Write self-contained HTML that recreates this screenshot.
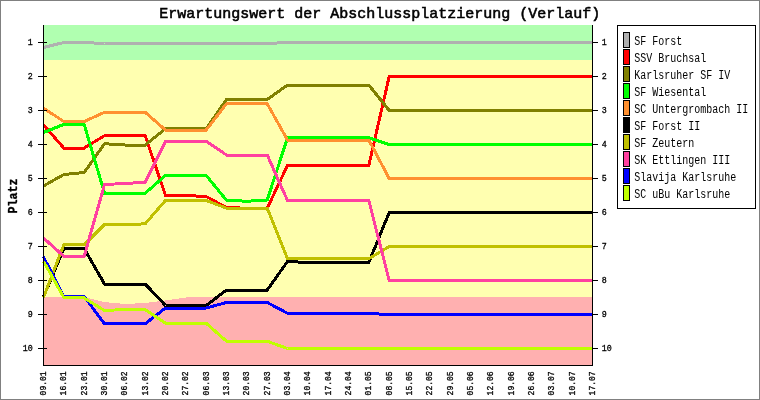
<!DOCTYPE html>
<html><head><meta charset="utf-8"><title>Erwartungswert der Abschlussplatzierung (Verlauf)</title>
<style>html,body{margin:0;padding:0;background:#fff;}svg{display:block;will-change:transform;}text{font-family:"Liberation Mono",monospace;fill:#000;}</style></head><body>
<svg width="760" height="400" viewBox="0 0 760 400">
<rect x="0" y="0" width="760" height="400" fill="#fff"/>
<rect x="0.5" y="0.5" width="759" height="399" fill="none" stroke="#808080" stroke-width="1" shape-rendering="crispEdges"/>
<g shape-rendering="crispEdges">
<rect x="43" y="25" width="550" height="341" fill="#ffffb0"/>
<rect x="43" y="25" width="550" height="35" fill="#b0ffb0"/>
<polygon fill="#ffb0b0" points="43,297 84,297 104,302 125,304 145,303 165,300.5 190,297 593,297 593,366 43,366"/>
</g>
<g fill="none" stroke-width="3" stroke-linejoin="miter" stroke-linecap="butt" shape-rendering="crispEdges">
<polyline stroke="#b0b0b0" points="43.5,47.50 63.8,42.50 84.2,42.50 104.5,43.50 124.8,43.50 145.2,43.50 165.5,43.50 185.8,43.50 206.2,43.50 226.5,43.50 246.8,43.50 267.2,43.50 287.5,42.50 307.8,42.50 328.2,42.50 348.5,42.50 368.8,42.50 389.2,42.50 409.5,42.50 429.8,42.50 450.2,42.50 470.5,42.50 490.8,42.50 511.2,42.50 531.5,42.50 551.8,42.50 572.2,42.50 592.5,42.50"/>
<polyline stroke="#ff0000" points="43.5,125.00 63.8,148.00 84.2,148.00 104.5,135.70 124.8,135.70 145.2,135.70 165.5,195.50 185.8,195.50 206.2,196.50 226.5,207.60 246.8,208.20 267.2,208.20 287.5,165.50 307.8,165.50 328.2,165.50 348.5,165.50 368.8,165.50 389.2,76.50 409.5,76.50 429.8,76.50 450.2,76.50 470.5,76.50 490.8,76.50 511.2,76.50 531.5,76.50 551.8,76.50 572.2,76.50 592.5,76.50"/>
<polyline stroke="#808000" points="43.5,186.00 63.8,174.50 84.2,172.50 104.5,143.75 124.8,145.00 145.2,145.00 165.5,128.75 185.8,128.75 206.2,128.75 226.5,99.50 246.8,99.50 267.2,99.50 287.5,85.00 307.8,85.00 328.2,85.00 348.5,85.00 368.8,85.00 389.2,110.50 409.5,110.50 429.8,110.50 450.2,110.50 470.5,110.50 490.8,110.50 511.2,110.50 531.5,110.50 551.8,110.50 572.2,110.50 592.5,110.50"/>
<polyline stroke="#00ff00" points="43.5,132.50 63.8,124.40 84.2,124.40 104.5,193.25 124.8,193.25 145.2,193.25 165.5,175.50 185.8,175.50 206.2,175.50 226.5,200.25 246.8,201.25 267.2,200.00 287.5,137.75 307.8,137.75 328.2,137.75 348.5,137.75 368.8,137.75 389.2,144.50 409.5,144.50 429.8,144.50 450.2,144.50 470.5,144.50 490.8,144.50 511.2,144.50 531.5,144.50 551.8,144.50 572.2,144.50 592.5,144.50"/>
<polyline stroke="#ff9030" points="43.5,108.10 63.8,121.50 84.2,121.50 104.5,112.25 124.8,112.25 145.2,112.25 165.5,130.00 185.8,130.00 206.2,130.00 226.5,103.75 246.8,103.75 267.2,103.75 287.5,140.00 307.8,140.00 328.2,140.00 348.5,140.00 368.8,140.00 389.2,178.50 409.5,178.50 429.8,178.50 450.2,178.50 470.5,178.50 490.8,178.50 511.2,178.50 531.5,178.50 551.8,178.50 572.2,178.50 592.5,178.50"/>
<polyline stroke="#000000" points="43.5,297.00 63.8,248.50 84.2,248.50 104.5,284.00 124.8,284.00 145.2,284.00 165.5,305.50 185.8,305.50 206.2,305.50 226.5,290.00 246.8,290.00 267.2,290.00 287.5,261.50 307.8,262.50 328.2,262.50 348.5,262.50 368.8,262.50 389.2,212.50 409.5,212.50 429.8,212.50 450.2,212.50 470.5,212.50 490.8,212.50 511.2,212.50 531.5,212.50 551.8,212.50 572.2,212.50 592.5,212.50"/>
<polyline stroke="#c0c000" points="43.5,297.50 63.8,244.75 84.2,244.75 104.5,224.50 124.8,225.00 145.2,223.75 165.5,200.40 185.8,200.40 206.2,200.40 226.5,208.20 246.8,208.20 267.2,208.20 287.5,258.75 307.8,258.75 328.2,258.75 348.5,258.75 368.8,258.75 389.2,246.50 409.5,246.50 429.8,246.50 450.2,246.50 470.5,246.50 490.8,246.50 511.2,246.50 531.5,246.50 551.8,246.50 572.2,246.50 592.5,246.50"/>
<polyline stroke="#ff40a0" points="43.5,238.00 63.8,256.25 84.2,256.25 104.5,184.50 124.8,183.50 145.2,182.25 165.5,141.25 185.8,141.25 206.2,141.25 226.5,155.00 246.8,155.00 267.2,155.00 287.5,200.50 307.8,200.50 328.2,200.50 348.5,200.50 368.8,200.50 389.2,280.50 409.5,280.50 429.8,280.50 450.2,280.50 470.5,280.50 490.8,280.50 511.2,280.50 531.5,280.50 551.8,280.50 572.2,280.50 592.5,280.50"/>
<polyline stroke="#0000ff" points="43.5,257.00 63.8,296.50 84.2,296.50 104.5,323.75 124.8,323.75 145.2,323.75 165.5,308.00 185.8,308.00 206.2,308.00 226.5,302.50 246.8,302.50 267.2,302.50 287.5,313.25 307.8,313.25 328.2,313.25 348.5,313.25 368.8,313.50 389.2,314.50 409.5,314.50 429.8,314.50 450.2,314.50 470.5,314.50 490.8,314.50 511.2,314.50 531.5,314.50 551.8,314.50 572.2,314.50 592.5,314.50"/>
<polyline stroke="#c0ff00" points="43.5,261.25 63.8,297.50 84.2,298.00 104.5,310.50 124.8,309.50 145.2,309.50 165.5,323.25 185.8,323.25 206.2,323.25 226.5,341.25 246.8,341.25 267.2,341.25 287.5,348.50 307.8,348.50 328.2,348.50 348.5,348.50 368.8,348.50 389.2,348.50 409.5,348.50 429.8,348.50 450.2,348.50 470.5,348.50 490.8,348.50 511.2,348.50 531.5,348.50 551.8,348.50 572.2,348.50 592.5,348.50"/>
</g>
<g stroke="#000" stroke-width="1" shape-rendering="crispEdges" fill="none">
<line x1="43.5" y1="25" x2="43.5" y2="366"/>
<line x1="592.5" y1="25" x2="592.5" y2="366"/>
<line x1="43" y1="365.5" x2="593" y2="365.5"/>
<line x1="38" y1="42.5" x2="47" y2="42.5"/>
<line x1="593" y1="42.5" x2="598" y2="42.5"/>
<line x1="38" y1="76.5" x2="47" y2="76.5"/>
<line x1="593" y1="76.5" x2="598" y2="76.5"/>
<line x1="38" y1="110.5" x2="47" y2="110.5"/>
<line x1="593" y1="110.5" x2="598" y2="110.5"/>
<line x1="38" y1="144.5" x2="47" y2="144.5"/>
<line x1="593" y1="144.5" x2="598" y2="144.5"/>
<line x1="38" y1="178.5" x2="47" y2="178.5"/>
<line x1="593" y1="178.5" x2="598" y2="178.5"/>
<line x1="38" y1="212.5" x2="47" y2="212.5"/>
<line x1="593" y1="212.5" x2="598" y2="212.5"/>
<line x1="38" y1="246.5" x2="47" y2="246.5"/>
<line x1="593" y1="246.5" x2="598" y2="246.5"/>
<line x1="38" y1="280.5" x2="47" y2="280.5"/>
<line x1="593" y1="280.5" x2="598" y2="280.5"/>
<line x1="38" y1="314.5" x2="47" y2="314.5"/>
<line x1="593" y1="314.5" x2="598" y2="314.5"/>
<line x1="38" y1="348.5" x2="47" y2="348.5"/>
<line x1="593" y1="348.5" x2="598" y2="348.5"/>
</g>
<g font-size="9" stroke="#000" stroke-width="0.3">
<text x="27.8" y="45" textLength="5" lengthAdjust="spacingAndGlyphs">1</text>
<text x="601.8" y="45" textLength="5" lengthAdjust="spacingAndGlyphs">1</text>
<text x="27.8" y="79" textLength="5" lengthAdjust="spacingAndGlyphs">2</text>
<text x="601.8" y="79" textLength="5" lengthAdjust="spacingAndGlyphs">2</text>
<text x="27.8" y="113" textLength="5" lengthAdjust="spacingAndGlyphs">3</text>
<text x="601.8" y="113" textLength="5" lengthAdjust="spacingAndGlyphs">3</text>
<text x="27.8" y="147" textLength="5" lengthAdjust="spacingAndGlyphs">4</text>
<text x="601.8" y="147" textLength="5" lengthAdjust="spacingAndGlyphs">4</text>
<text x="27.8" y="181" textLength="5" lengthAdjust="spacingAndGlyphs">5</text>
<text x="601.8" y="181" textLength="5" lengthAdjust="spacingAndGlyphs">5</text>
<text x="27.8" y="215" textLength="5" lengthAdjust="spacingAndGlyphs">6</text>
<text x="601.8" y="215" textLength="5" lengthAdjust="spacingAndGlyphs">6</text>
<text x="27.8" y="249" textLength="5" lengthAdjust="spacingAndGlyphs">7</text>
<text x="601.8" y="249" textLength="5" lengthAdjust="spacingAndGlyphs">7</text>
<text x="27.8" y="283" textLength="5" lengthAdjust="spacingAndGlyphs">8</text>
<text x="601.8" y="283" textLength="5" lengthAdjust="spacingAndGlyphs">8</text>
<text x="27.8" y="317" textLength="5" lengthAdjust="spacingAndGlyphs">9</text>
<text x="601.8" y="317" textLength="5" lengthAdjust="spacingAndGlyphs">9</text>
<text x="22.8" y="351" textLength="10" lengthAdjust="spacingAndGlyphs">10</text>
<text x="601.8" y="351" textLength="10" lengthAdjust="spacingAndGlyphs">10</text>
<text transform="translate(46.1,395.4) rotate(-90)" textLength="24" lengthAdjust="spacingAndGlyphs">09.01</text>
<text transform="translate(66.4,395.4) rotate(-90)" textLength="24" lengthAdjust="spacingAndGlyphs">16.01</text>
<text transform="translate(86.8,395.4) rotate(-90)" textLength="24" lengthAdjust="spacingAndGlyphs">23.01</text>
<text transform="translate(107.1,395.4) rotate(-90)" textLength="24" lengthAdjust="spacingAndGlyphs">30.01</text>
<text transform="translate(127.4,395.4) rotate(-90)" textLength="24" lengthAdjust="spacingAndGlyphs">06.02</text>
<text transform="translate(147.8,395.4) rotate(-90)" textLength="24" lengthAdjust="spacingAndGlyphs">13.02</text>
<text transform="translate(168.1,395.4) rotate(-90)" textLength="24" lengthAdjust="spacingAndGlyphs">20.02</text>
<text transform="translate(188.4,395.4) rotate(-90)" textLength="24" lengthAdjust="spacingAndGlyphs">27.02</text>
<text transform="translate(208.8,395.4) rotate(-90)" textLength="24" lengthAdjust="spacingAndGlyphs">06.03</text>
<text transform="translate(229.1,395.4) rotate(-90)" textLength="24" lengthAdjust="spacingAndGlyphs">13.03</text>
<text transform="translate(249.4,395.4) rotate(-90)" textLength="24" lengthAdjust="spacingAndGlyphs">20.03</text>
<text transform="translate(269.8,395.4) rotate(-90)" textLength="24" lengthAdjust="spacingAndGlyphs">27.03</text>
<text transform="translate(290.1,395.4) rotate(-90)" textLength="24" lengthAdjust="spacingAndGlyphs">03.04</text>
<text transform="translate(310.4,395.4) rotate(-90)" textLength="24" lengthAdjust="spacingAndGlyphs">10.04</text>
<text transform="translate(330.8,395.4) rotate(-90)" textLength="24" lengthAdjust="spacingAndGlyphs">17.04</text>
<text transform="translate(351.1,395.4) rotate(-90)" textLength="24" lengthAdjust="spacingAndGlyphs">24.04</text>
<text transform="translate(371.4,395.4) rotate(-90)" textLength="24" lengthAdjust="spacingAndGlyphs">01.05</text>
<text transform="translate(391.8,395.4) rotate(-90)" textLength="24" lengthAdjust="spacingAndGlyphs">08.05</text>
<text transform="translate(412.1,395.4) rotate(-90)" textLength="24" lengthAdjust="spacingAndGlyphs">15.05</text>
<text transform="translate(432.4,395.4) rotate(-90)" textLength="24" lengthAdjust="spacingAndGlyphs">22.05</text>
<text transform="translate(452.8,395.4) rotate(-90)" textLength="24" lengthAdjust="spacingAndGlyphs">29.05</text>
<text transform="translate(473.1,395.4) rotate(-90)" textLength="24" lengthAdjust="spacingAndGlyphs">05.06</text>
<text transform="translate(493.4,395.4) rotate(-90)" textLength="24" lengthAdjust="spacingAndGlyphs">12.06</text>
<text transform="translate(513.8,395.4) rotate(-90)" textLength="24" lengthAdjust="spacingAndGlyphs">19.06</text>
<text transform="translate(534.1,395.4) rotate(-90)" textLength="24" lengthAdjust="spacingAndGlyphs">26.06</text>
<text transform="translate(554.4,395.4) rotate(-90)" textLength="24" lengthAdjust="spacingAndGlyphs">03.07</text>
<text transform="translate(574.8,395.4) rotate(-90)" textLength="24" lengthAdjust="spacingAndGlyphs">10.07</text>
<text transform="translate(595.1,395.4) rotate(-90)" textLength="24" lengthAdjust="spacingAndGlyphs">17.07</text>
</g>
<text x="159.3" y="18" font-size="15" stroke="#000" stroke-width="0.55" textLength="441" lengthAdjust="spacingAndGlyphs">Erwartungswert der Abschlussplatzierung (Verlauf)</text>
<text transform="translate(16.6,213.5) rotate(-90)" font-size="13.6" font-weight="bold" stroke="#000" stroke-width="0.35" textLength="35" lengthAdjust="spacingAndGlyphs">Platz</text>
<rect x="617.5" y="25.5" width="138" height="183" fill="#fff" stroke="#000" stroke-width="1" shape-rendering="crispEdges"/>
<rect x="623.5" y="32.5" width="6" height="15" fill="#b0b0b0" stroke="#000" stroke-width="1" shape-rendering="crispEdges"/>
<text x="634.3" y="45" font-size="12" textLength="48" lengthAdjust="spacingAndGlyphs">SF Forst</text>
<rect x="623.5" y="49.5" width="6" height="15" fill="#ff0000" stroke="#000" stroke-width="1" shape-rendering="crispEdges"/>
<text x="634.3" y="62" font-size="12" textLength="72" lengthAdjust="spacingAndGlyphs">SSV Bruchsal</text>
<rect x="623.5" y="66.5" width="6" height="15" fill="#808000" stroke="#000" stroke-width="1" shape-rendering="crispEdges"/>
<text x="634.3" y="79" font-size="12" textLength="96" lengthAdjust="spacingAndGlyphs">Karlsruher SF IV</text>
<rect x="623.5" y="83.5" width="6" height="15" fill="#00ff00" stroke="#000" stroke-width="1" shape-rendering="crispEdges"/>
<text x="634.3" y="96" font-size="12" textLength="72" lengthAdjust="spacingAndGlyphs">SF Wiesental</text>
<rect x="623.5" y="100.5" width="6" height="15" fill="#ff9030" stroke="#000" stroke-width="1" shape-rendering="crispEdges"/>
<text x="634.3" y="113" font-size="12" textLength="114" lengthAdjust="spacingAndGlyphs">SC Untergrombach II</text>
<rect x="623.5" y="117.5" width="6" height="15" fill="#000000" stroke="#000" stroke-width="1" shape-rendering="crispEdges"/>
<text x="634.3" y="130" font-size="12" textLength="66" lengthAdjust="spacingAndGlyphs">SF Forst II</text>
<rect x="623.5" y="134.5" width="6" height="15" fill="#c0c000" stroke="#000" stroke-width="1" shape-rendering="crispEdges"/>
<text x="634.3" y="147" font-size="12" textLength="60" lengthAdjust="spacingAndGlyphs">SF Zeutern</text>
<rect x="623.5" y="151.5" width="6" height="15" fill="#ff40a0" stroke="#000" stroke-width="1" shape-rendering="crispEdges"/>
<text x="634.3" y="164" font-size="12" textLength="96" lengthAdjust="spacingAndGlyphs">SK Ettlingen III</text>
<rect x="623.5" y="168.5" width="6" height="15" fill="#0000ff" stroke="#000" stroke-width="1" shape-rendering="crispEdges"/>
<text x="634.3" y="181" font-size="12" textLength="102" lengthAdjust="spacingAndGlyphs">Slavija Karlsruhe</text>
<rect x="623.5" y="185.5" width="6" height="15" fill="#c0ff00" stroke="#000" stroke-width="1" shape-rendering="crispEdges"/>
<text x="634.3" y="198" font-size="12" textLength="96" lengthAdjust="spacingAndGlyphs">SC uBu Karlsruhe</text>
</svg></body></html>
